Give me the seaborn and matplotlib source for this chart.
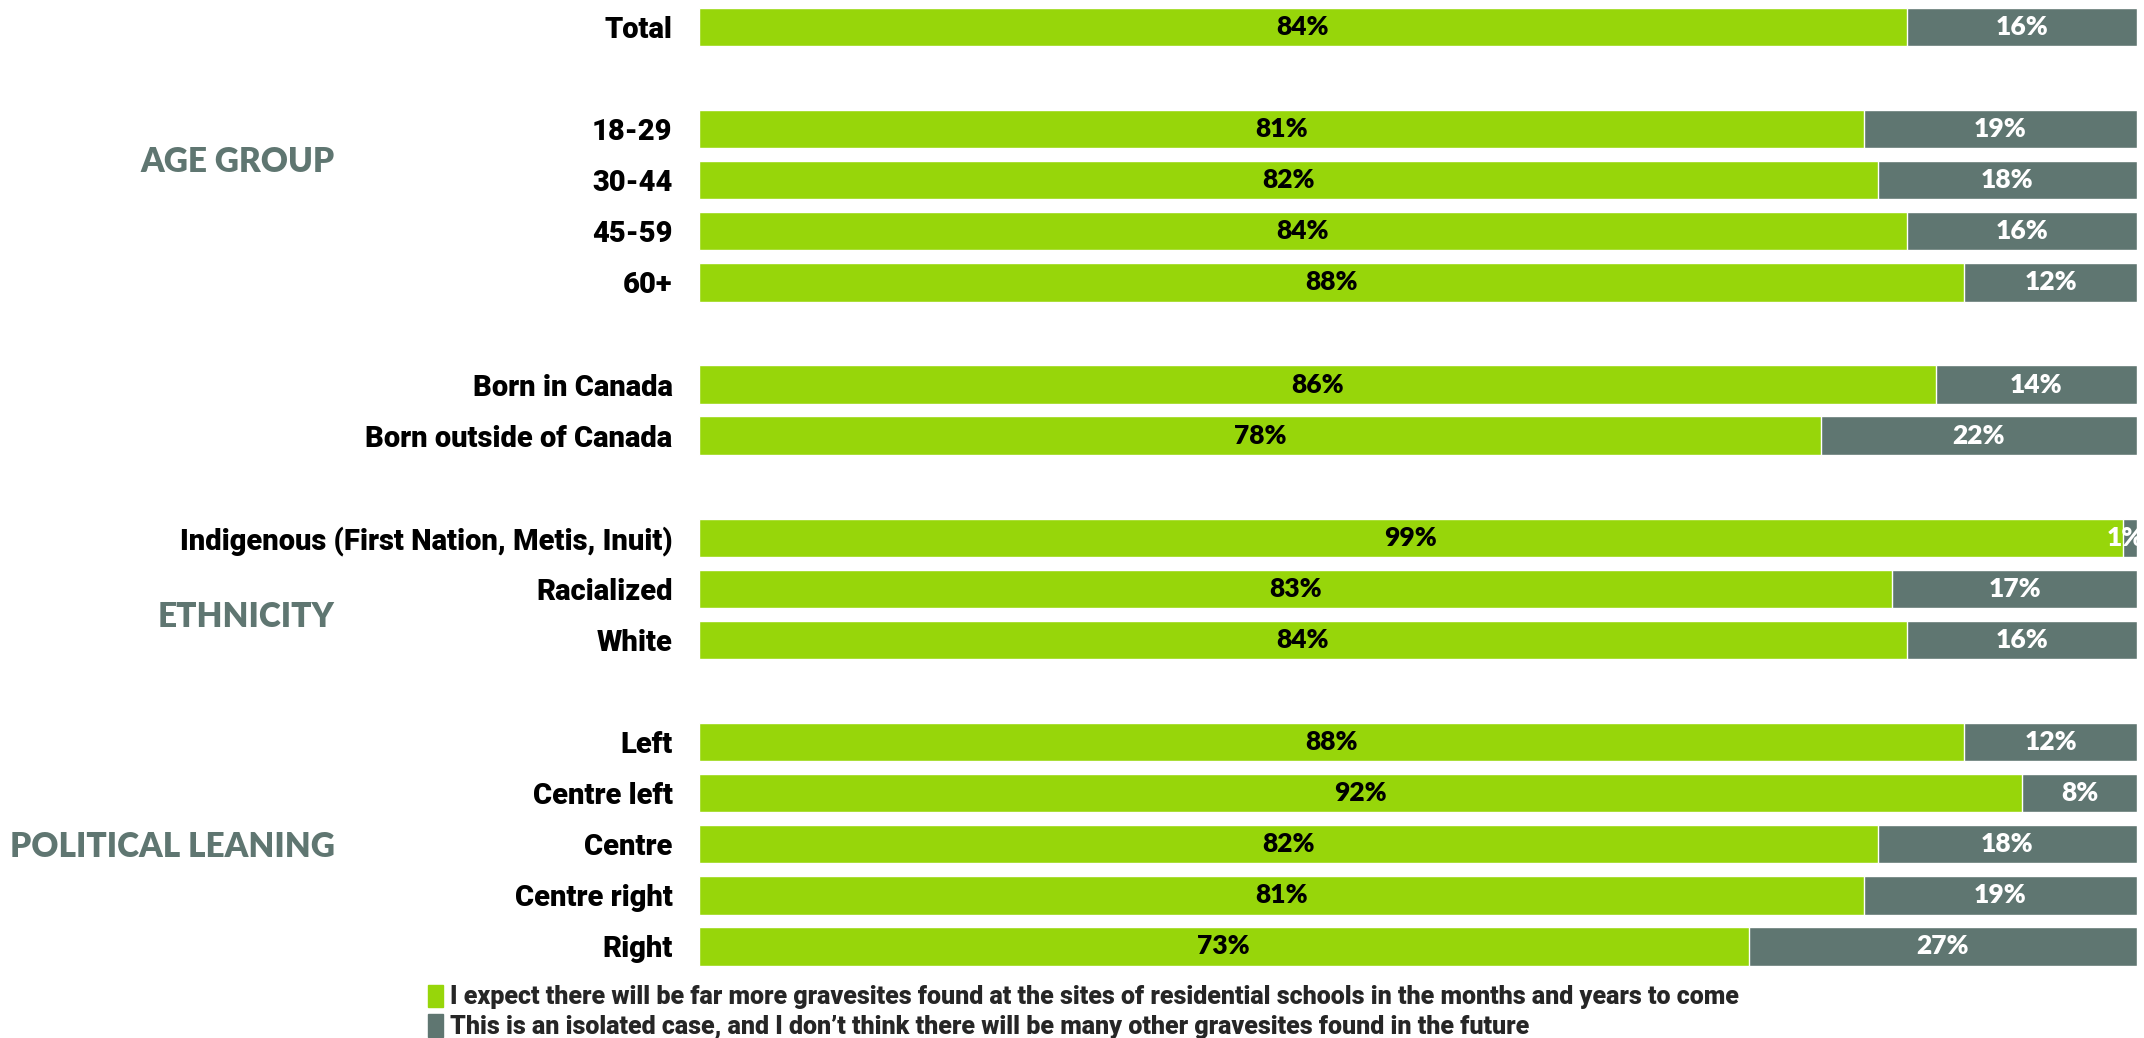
import numpy as np
import pandas as pd
import matplotlib
matplotlib.use('Agg')
import matplotlib.pyplot as plt
import matplotlib.patches as mpatches
import seaborn as sns

# 데이터: 각 응답 비율(%)
categories = ['Total',
              '18-29', '30-44', '45-59', '60+',
              'Born in Canada', 'Born outside of Canada',
              'Indigenous (First Nation, Metis, Inuit)', 'Racialized', 'White',
              'Left', 'Centre left', 'Centre', 'Centre right', 'Right']
slots = [0, 2, 3, 4, 5, 7, 8, 10, 11, 12, 14, 15, 16, 17, 18]
expect_more = [84, 81, 82, 84, 88, 86, 78, 99, 83, 84, 88, 92, 82, 81, 73]
isolated = [16, 19, 18, 16, 12, 14, 22, 1, 17, 16, 12, 8, 18, 19, 27]

groups = ['AGE GROUP', 'ETHNICITY', 'POLITICAL LEANING']
group_slots = [2.65, 11.55, 16.05]

legend_labels = [
    'I expect there will be far more gravesites found at the sites of residential schools in the months and years to come',
    'This is an isolated case, and I don\u2019t think there will be many other gravesites found in the future',
]

GREEN = '#97D60A'
GRAY = '#5F7671'
LABEL_FONT = ['Roboto', 'DejaVu Sans']
PCT_FONT = ['Lato', 'DejaVu Sans']

sns.set_theme(style='white')

df = pd.DataFrame({
    'category': categories,
    'slot': slots,
    'expect': expect_more,
    'isolated': isolated,
})
df['total'] = df['expect'] + df['isolated']

fig = plt.figure(figsize=(21.44, 10.38), dpi=100)
ax = fig.add_axes([0.326, 0.0636, 0.6707, 0.935])

# 회색 막대를 전체 길이로 깔고 그 위에 초록 막대를 얹어 누적 막대를 만듭니다.
sns.barplot(data=df, x='total', y='slot', orient='h', native_scale=True,
            color=GRAY, width=0.75, saturation=1, ax=ax)
sns.barplot(data=df, x='expect', y='slot', orient='h', native_scale=True,
            color=GREEN, width=0.75, saturation=1, ax=ax)

ax.set_xlim(0, 100)
ax.set_ylim(18.5, -0.5)
ax.set_xlabel('')
ax.set_ylabel('')
ax.set_xticks([])
ax.set_yticks(slots)
ax.set_yticklabels(categories, fontsize=21, fontweight='heavy', family=LABEL_FONT,
                   color='black')
ax.tick_params(axis='y', length=0, pad=19)
for s in ax.spines.values():
    s.set_visible(False)

# 막대 안쪽 퍼센트 라벨 (아주 좁은 1%는 원본처럼 오른쪽 끝에서 잘립니다)
for s, e, i in zip(slots, expect_more, isolated):
    ax.text(e / 2, s, f'{e}%', ha='center', va='center', color='black',
            fontsize=19, fontweight='heavy', family=PCT_FONT)
    ax.text(e + i / 2 - (0.3 if i < 3 else 0), s, f'{i}%', ha='center', va='center',
            color='white', fontsize=19, fontweight='heavy', family=PCT_FONT,
            clip_on=True)

# 그룹 제목
for g, gs in zip(groups, group_slots):
    y_fig = fig.transFigure.inverted().transform(ax.transData.transform((0, gs)))[1]
    fig.text(0.156, y_fig, g, ha='right', va='center', color=GRAY,
             fontsize=24, fontweight='heavy', family=PCT_FONT)

handles = [mpatches.Patch(color=GREEN), mpatches.Patch(color=GRAY)]
fig.legend(handles, legend_labels, loc='center left',
           bbox_to_anchor=(428 / 2144, 1 - 1012 / 1038), frameon=False,
           handlelength=0.6, handleheight=1.0, handletextpad=0.3,
           labelspacing=0.2, borderpad=0, borderaxespad=0,
           prop={'family': LABEL_FONT, 'weight': 'heavy', 'size': 18})

plt.savefig('out.png', dpi=100)
